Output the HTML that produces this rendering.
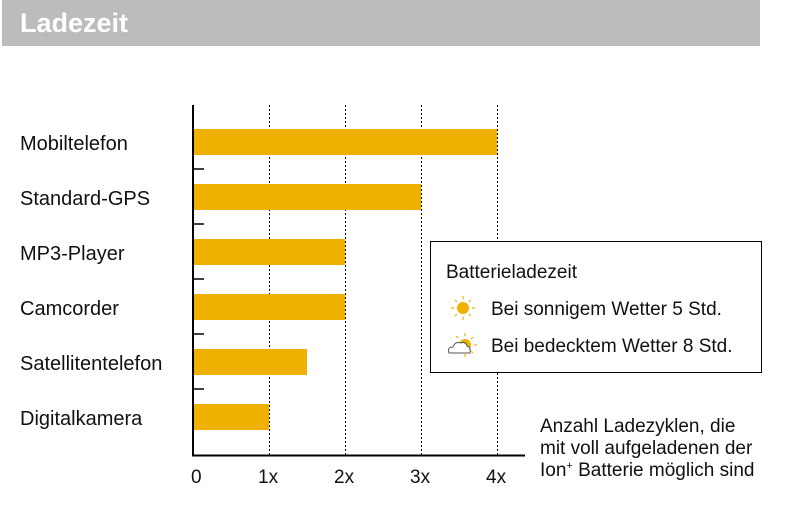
<!DOCTYPE html>
<html><head><style>
body{margin:0;width:796px;height:516px;background:#fff;overflow:hidden;font-family:"Liberation Sans",sans-serif;}
</style></head><body>
<svg width="796" height="516" xmlns="http://www.w3.org/2000/svg" font-family="Liberation Sans, sans-serif">
<rect x="2" y="0" width="758" height="46" fill="#bcbcbc"/>
<text x="20" y="32" font-size="27" font-weight="bold" fill="#fff">Ladezeit</text>
<g stroke="#000" stroke-width="1" stroke-dasharray="2,2">
<line x1="269.5" y1="105" x2="269.5" y2="455"/>
<line x1="345.5" y1="105" x2="345.5" y2="455"/>
<line x1="421.5" y1="105" x2="421.5" y2="455"/>
<line x1="497.5" y1="105" x2="497.5" y2="455"/>
</g>
<g fill="#efb000">
<rect x="193" y="129" width="304" height="26"/>
<rect x="193" y="184" width="228" height="26"/>
<rect x="193" y="239" width="152" height="26"/>
<rect x="193" y="294" width="152" height="26"/>
<rect x="193" y="349" width="114" height="26"/>
<rect x="193" y="404" width="76" height="26"/>
</g>
<g stroke="#000" stroke-width="1.5">
<line x1="193" y1="169" x2="204" y2="169"/>
<line x1="193" y1="224" x2="204" y2="224"/>
<line x1="193" y1="279" x2="204" y2="279"/>
<line x1="193" y1="334" x2="204" y2="334"/>
<line x1="193" y1="389" x2="204" y2="389"/>
</g>
<line x1="193" y1="105" x2="193" y2="456" stroke="#000" stroke-width="2"/>
<line x1="192" y1="455.5" x2="525" y2="455.5" stroke="#000" stroke-width="2"/>
<g font-size="20" fill="#111">
<text x="20" y="150">Mobiltelefon</text>
<text x="20" y="205">Standard-GPS</text>
<text x="20" y="260">MP3-Player</text>
<text x="20" y="315">Camcorder</text>
<text x="20" y="370">Satellitentelefon</text>
<text x="20" y="425">Digitalkamera</text>
</g>
<g font-size="19" fill="#111">
<text x="191" y="483">0</text>
<text x="258" y="483">1x</text>
<text x="334" y="483">2x</text>
<text x="410" y="483">3x</text>
<text x="486" y="483">4x</text>
</g>
<rect x="430.5" y="241.5" width="331" height="131" fill="#fff" stroke="#000" stroke-width="1"/>
<g font-size="19" fill="#111">
<text x="446" y="278">Batterieladezeit</text>
<text x="491" y="315">Bei sonnigem Wetter 5 Std.</text>
<text x="491" y="352">Bei bedecktem Wetter 8 Std.</text>
</g>
<g stroke="#efb000" stroke-width="1.2">
<circle cx="463" cy="308" r="6" fill="#efb000" stroke="none"/>
<line x1="463" y1="296" x2="463" y2="299"/><line x1="463" y1="317" x2="463" y2="320"/>
<line x1="451" y1="308" x2="454" y2="308"/><line x1="472" y1="308" x2="475" y2="308"/>
<line x1="455" y1="300" x2="457" y2="302"/><line x1="469" y1="314" x2="471" y2="316"/>
<line x1="455" y1="316" x2="457" y2="314"/><line x1="469" y1="302" x2="471" y2="300"/>
<circle cx="465" cy="345" r="6" fill="#efb000" stroke="none"/>
<line x1="465" y1="333" x2="465" y2="336"/><line x1="465" y1="354" x2="465" y2="357"/>
<line x1="474" y1="345" x2="477" y2="345"/>
<line x1="471" y1="339" x2="473" y2="337"/><line x1="471" y1="351" x2="473" y2="353"/>
<line x1="458" y1="338" x2="456" y2="336"/>
</g>
<path d="M449 353 q-2 -6 4 -6 q2 -6 8 -4 q4 -2 6 3 q4 1 3 7 z" fill="#fff" stroke="#555" stroke-width="1"/>
<g font-size="19" fill="#111">
<text x="540" y="432">Anzahl Ladezyklen, die</text>
<text x="540" y="454">mit voll aufgeladenen der</text>
<text x="540" y="476">Ion<tspan font-size="11" dy="-7">+</tspan><tspan dy="7"> Batterie möglich sind</tspan></text>
</g>
</svg>
</body></html>
